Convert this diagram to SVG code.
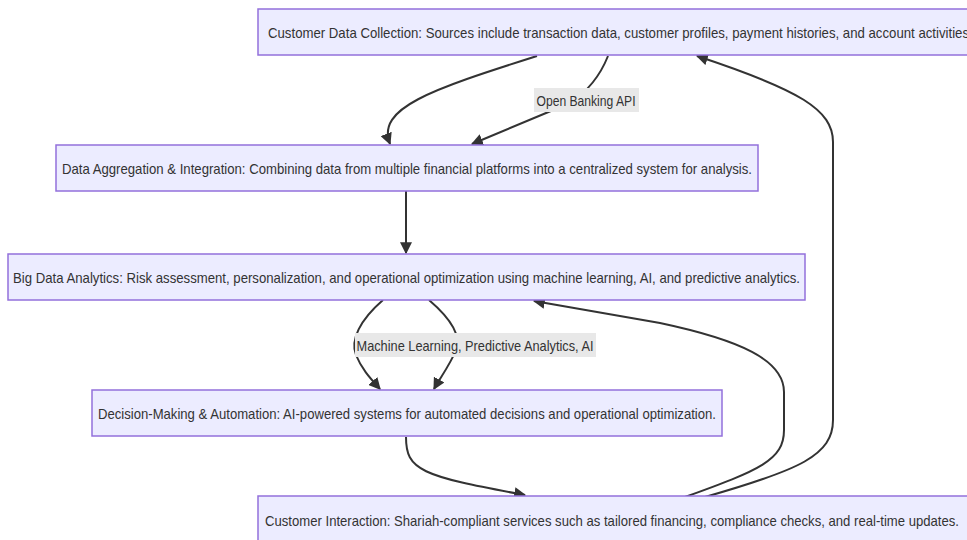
<svg xmlns="http://www.w3.org/2000/svg" width="967" height="540" viewBox="0 0 967 540">
<defs>
<style>
.node rect{fill:#ECECFF;stroke:#9370DB;stroke-width:1.5}
.node text,.lbl text{font-family:"Liberation Sans",Arial,sans-serif;font-size:15px;fill:#333;dominant-baseline:central}
.edge{fill:none;stroke:#333;stroke-width:2}
.lbl rect{fill:#e8e8e8;stroke:none}
</style>
<marker id="arr" viewBox="0 0 10 10" refX="9" refY="5" markerUnits="userSpaceOnUse" markerWidth="12" markerHeight="12" orient="auto">
<path d="M0,0 L10,5 L0,10 z" fill="#333"/>
</marker>
</defs>
<rect width="967" height="540" fill="#fff"/>
<g id="connectors">
<path class="edge" marker-end="url(#arr)" d="M537,56 C430,90 376,108 390,144"/>
<path class="edge" marker-end="url(#arr)" d="M608,56 Q596,86 570,103 L472,144"/>
<path class="edge" marker-end="url(#arr)" d="M406,191 L406,253"/>
<path class="edge" marker-end="url(#arr)" d="M383,300 C360,320 350,340 356,355 C362,370 372,380 380,389"/>
<path class="edge" marker-end="url(#arr)" d="M429,300 C450,318 462,335 456,350 C450,365 440,378 434,389"/>
<path class="edge" marker-end="url(#arr)" d="M406,437 C406,470 420,476 525,495"/>
<path class="edge" marker-end="url(#arr)" d="M685,497 C760,470 784,460 784,430 L784,392 C784,360 740,340 660,323 L534,301"/>
<path class="edge" marker-end="url(#arr)" d="M705,497 C800,470 833,455 833,420 L833,142 C833,110 800,90 697,56"/>
<g class="lbl">
<rect x="534" y="88" width="105" height="24"/>
<text x="586" y="100" text-anchor="middle" textLength="99" lengthAdjust="spacingAndGlyphs">Open Banking API</text>
<rect x="355" y="333" width="241" height="24"/>
<text x="475" y="345" text-anchor="middle" textLength="237" lengthAdjust="spacingAndGlyphs">Machine Learning, Predictive Analytics, AI</text>
</g>
</g>
<g id="n1" class="node">
<rect x="258" y="9" width="720" height="46"/>
<text x="268" y="32" textLength="701" lengthAdjust="spacingAndGlyphs">Customer Data Collection: Sources include transaction data, customer profiles, payment histories, and account activities</text>
</g>
<g id="n2" class="node">
<rect x="56" y="145" width="702" height="46"/>
<text x="407" y="168" text-anchor="middle" textLength="690" lengthAdjust="spacingAndGlyphs">Data Aggregation &amp; Integration: Combining data from multiple financial platforms into a centralized system for analysis.</text>
</g>
<g id="n3" class="node">
<rect x="8" y="254" width="797" height="46"/>
<text x="406.5" y="277" text-anchor="middle" textLength="787" lengthAdjust="spacingAndGlyphs">Big Data Analytics: Risk assessment, personalization, and operational optimization using machine learning, AI, and predictive analytics.</text>
</g>
<g id="n4" class="node">
<rect x="92" y="390" width="630" height="46"/>
<text x="407" y="413" text-anchor="middle" textLength="618" lengthAdjust="spacingAndGlyphs">Decision-Making &amp; Automation: AI-powered systems for automated decisions and operational optimization.</text>
</g>
<g id="n5" class="node">
<rect x="258" y="496" width="720" height="46"/>
<text x="265" y="520" textLength="694" lengthAdjust="spacingAndGlyphs">Customer Interaction: Shariah-compliant services such as tailored financing, compliance checks, and real-time updates.</text>
</g>
</svg>
